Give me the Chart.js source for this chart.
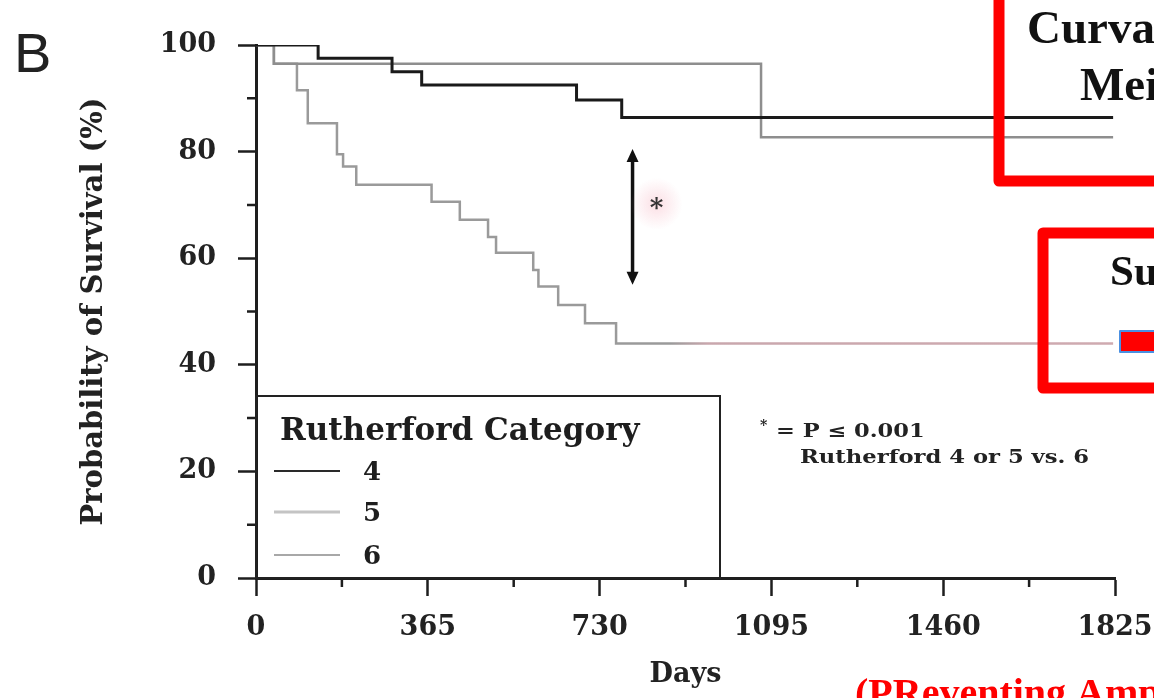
<!DOCTYPE html>
<html>
<head>
<meta charset="utf-8">
<script src="https://cdn.jsdelivr.net/npm/chart.js@4/dist/chart.umd.min.js"></script>
<style>
  html, body { margin: 0; padding: 0; background: #fff; }
  #wrap { position: relative; width: 1154px; height: 698px; overflow: hidden; }
</style>
</head>
<body>
<div id="wrap"><canvas id="kmChart" width="1154" height="698"></canvas></div>
<script>
// Rutherford categories and their Kaplan-Meier steps (day of event, survival %)
const categories = ['4', '5', '6'];
const days4 = [0, 132, 289, 352, 681, 777, 1821];
const surv4 = [100, 97.5, 95, 92.5, 89.7, 86.4, 86.4];
const days5 = [0, 38, 1073, 1821];
const surv5 = [100, 96.5, 82.7, 82.7];
const days6 = [0, 38, 87, 110, 172, 185, 213, 373, 433, 493, 510, 589, 600, 642, 699, 765, 1821];
const surv6 = [100, 96.5, 91.5, 85.3, 79.5, 77.2, 73.8, 70.6, 67.2, 64.0, 61.0, 57.8, 54.7, 51.2, 47.8, 44.0, 44.0];

const xTicks = [0, 365, 730, 1095, 1460, 1825];
const xMinor = [182.5, 547.5, 912.5, 1277.5, 1642.5];
const yTicks = [0, 20, 40, 60, 80, 100];
const yMinor = [10, 30, 50, 70, 90];

// significance arrow between groups (day, from %, to %)
const arrowDay = 800;
const arrowTop = 80.5;
const arrowBottom = 55;

const INK = '#1e1e1e';
const font = (size, family = 'DejaVu Serif', weight = 'bold') => `${weight} ${size}px "${family}"`;

function toPoints(xs, ys) {
  return xs.map((d, i) => ({ x: d, y: ys[i] }));
}

function tailGradient(ctx) {
  const chart = ctx.chart;
  const { chartArea, scales } = chart;
  if (!chartArea) return '#9a9a9a';
  const x0 = scales.x.getPixelForValue(0);
  const x1 = scales.x.getPixelForValue(1825);
  const g = chart.ctx.createLinearGradient(x0, 0, x1, 0);
  g.addColorStop(0, '#9a9a9a');
  g.addColorStop(880 / 1825, '#9a9a9a');
  g.addColorStop(960 / 1825, '#c9a7ad');
  g.addColorStop(1, '#cfaab0');
  return g;
}

function stretchText(ctx, text, x, y, sx) {
  ctx.save();
  ctx.translate(x, y);
  ctx.scale(sx, 1);
  ctx.fillText(text, 0, 0);
  ctx.restore();
}

const extras = {
  id: 'extras',
  afterDraw(chart) {
    const { ctx, scales: { x, y } } = chart;
    ctx.save();

    // minor ticks
    ctx.strokeStyle = INK;
    ctx.lineWidth = 2.5;
    ctx.beginPath();
    yMinor.forEach(v => {
      const py = y.getPixelForValue(v);
      ctx.moveTo(x.left - 9, py);
      ctx.lineTo(x.left, py);
    });
    xMinor.forEach(v => {
      const px = x.getPixelForValue(v);
      ctx.moveTo(px, y.bottom);
      ctx.lineTo(px, y.bottom + 9);
    });
    ctx.stroke();

    // legend box
    ctx.lineWidth = 2;
    ctx.strokeStyle = '#222';
    ctx.strokeRect(x.left, 396, 464, y.bottom - 396);
    ctx.fillStyle = INK;
    ctx.textBaseline = 'alphabetic';
    ctx.font = font(31);
    ctx.fillText('Rutherford Category', 280, 440);
    const rows = [471, 512, 555];
    ctx.font = font(26);
    categories.forEach((c, i) => {
      ctx.strokeStyle = i === 0 ? '#2a2a2a' : (i === 1 ? '#c4c4c4' : '#a8a8a8');
      ctx.lineWidth = i === 1 ? 3 : 2;
      ctx.beginPath();
      ctx.moveTo(274, rows[i]);
      ctx.lineTo(340, rows[i]);
      ctx.stroke();
      ctx.fillText(c, 363, rows[i] + 9);
    });

    // arrow
    const ax = x.getPixelForValue(arrowDay);
    const at = y.getPixelForValue(arrowTop);
    const ab = y.getPixelForValue(arrowBottom);
    ctx.strokeStyle = '#111';
    ctx.fillStyle = '#111';
    ctx.lineWidth = 3.5;
    ctx.beginPath();
    ctx.moveTo(ax, at + 6);
    ctx.lineTo(ax, ab - 6);
    ctx.stroke();
    ctx.beginPath();
    ctx.moveTo(ax, at);
    ctx.lineTo(ax - 6, at + 13);
    ctx.lineTo(ax + 6, at + 13);
    ctx.closePath();
    ctx.moveTo(ax, ab);
    ctx.lineTo(ax - 6, ab - 13);
    ctx.lineTo(ax + 6, ab - 13);
    ctx.closePath();
    ctx.fill();

    // asterisk with faint pink halo
    const sx = ax + 24, sy = (at + ab) / 2 - 13;
    const halo = ctx.createRadialGradient(sx, sy, 2, sx, sy, 26);
    halo.addColorStop(0, 'rgba(245,170,185,0.35)');
    halo.addColorStop(1, 'rgba(245,170,185,0)');
    ctx.fillStyle = halo;
    ctx.fillRect(sx - 30, sy - 30, 60, 60);
    ctx.fillStyle = '#333';
    ctx.font = font(26);
    ctx.textAlign = 'center';
    ctx.textBaseline = 'middle';
    ctx.fillText('*', sx, sy + 5);

    // p-value note
    ctx.textAlign = 'left';
    ctx.textBaseline = 'alphabetic';
    ctx.fillStyle = '#222';
    ctx.font = font(14);
    ctx.fillText('*', 760, 430);
    ctx.font = font(18);
    stretchText(ctx, '= P \u2264 0.001', 776, 437, 1.25);
    stretchText(ctx, 'Rutherford 4 or 5 vs. 6', 800, 463, 1.26);

    // panel letter
    ctx.fillStyle = '#222';
    ctx.font = font(56, 'Liberation Sans', 'normal');
    ctx.fillText('B', 14, 72);

    // slide boxes over the figure
    ctx.strokeStyle = '#ff0000';
    ctx.lineWidth = 11;
    ctx.lineJoin = 'round';
    ctx.strokeRect(999, -30, 200, 211);
    ctx.strokeRect(1043, 233, 160, 155);
    ctx.fillStyle = '#111';
    ctx.font = font(47, 'Liberation Serif');
    ctx.fillText('Curva', 1027, 43);
    ctx.fillText('Mei', 1080, 100);
    ctx.font = font(43, 'Liberation Serif');
    ctx.fillText('Su', 1110, 285);
    ctx.fillStyle = '#ff0000';
    ctx.fillRect(1120, 331, 40, 21);
    ctx.strokeStyle = '#4a90e2';
    ctx.lineWidth = 2;
    ctx.strokeRect(1120, 331, 40, 21);
    ctx.fillStyle = '#ff0000';
    ctx.font = font(40, 'Liberation Serif');
    ctx.fillText('(PReventing Amp', 855, 706);

    ctx.restore();
  }
};

new Chart(document.getElementById('kmChart'), {
  type: 'line',
  data: {
    datasets: [
      {
        label: categories[0],
        data: toPoints(days4, surv4),
        borderColor: '#1a1a1a',
        borderWidth: 3
      },
      {
        label: categories[1],
        data: toPoints(days5, surv5),
        borderColor: '#8e8e8e',
        borderWidth: 2.5
      },
      {
        label: categories[2],
        data: toPoints(days6, surv6),
        borderColor: tailGradient,
        borderWidth: 2.5
      }
    ]
  },
  options: {
    responsive: false,
    animation: false,
    devicePixelRatio: 1,
    layout: { padding: { left: 70, top: 45, right: 39, bottom: 0 } },
    elements: { line: { stepped: true, tension: 0 }, point: { radius: 0 } },
    scales: {
      x: {
        type: 'linear',
        min: 0,
        max: 1825,
        afterBuildTicks: scale => { scale.ticks = xTicks.map(v => ({ value: v })); },
        afterFit: scale => {
          scale.height = 120;
          scale.paddingLeft = 0;
          scale.paddingRight = 0;
        },
        grid: { drawOnChartArea: false, drawTicks: true, tickLength: 18, tickWidth: 2.5, tickColor: INK },
        border: { display: true, width: 3, color: INK },
        ticks: {
          color: '#222',
          font: { family: 'DejaVu Serif', weight: 'bold', size: 27 },
          padding: 16,
          maxRotation: 0,
          callback: v => String(v)
        },
        title: { display: true, text: 'Days', color: '#222', font: { family: 'DejaVu Serif', weight: 'bold', size: 27 }, padding: { top: 0, bottom: 7 } }
      },
      y: {
        min: 0,
        max: 100,
        afterBuildTicks: scale => { scale.ticks = yTicks.map(v => ({ value: v })); },
        afterFit: scale => {
          scale.width = 186;
          scale.paddingTop = 0;
          scale.paddingBottom = 0;
        },
        grid: { drawOnChartArea: false, drawTicks: true, tickLength: 18, tickWidth: 2.5, tickColor: INK },
        border: { display: true, width: 3, color: INK },
        ticks: {
          color: '#222',
          font: { family: 'DejaVu Serif', weight: 'bold', size: 27 },
          padding: 22,
          callback: v => String(v)
        },
        title: { display: true, text: 'Probability of Survival (%)', color: '#222', font: { family: 'DejaVu Serif', weight: 'bold', size: 29 }, padding: { top: 7, bottom: 0 } }
      }
    },
    plugins: {
      legend: { display: false },
      tooltip: { enabled: false }
    }
  },
  plugins: [extras]
});
</script>
</body>
</html>
